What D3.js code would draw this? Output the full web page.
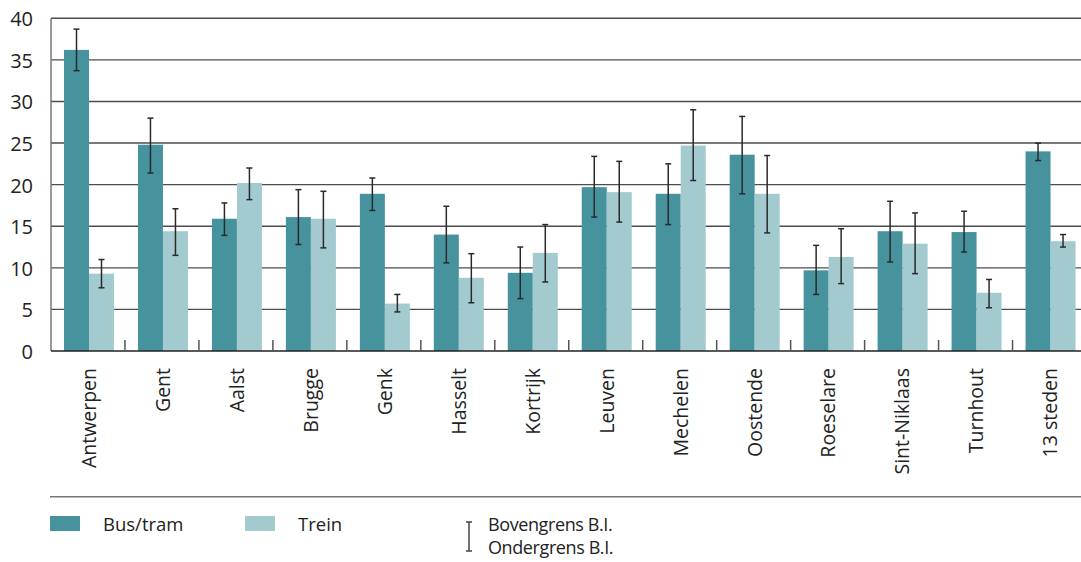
<!DOCTYPE html>
<html><head><meta charset="utf-8">
<script src="https://cdn.jsdelivr.net/npm/d3@7"></script>
<style>body{margin:0;background:#fff}svg{display:block}text{font-family:"Open Sans",sans-serif;fill:#222}</style>
</head><body>
<svg id="c" width="1081" height="562"></svg>
<script>
const categories = ["Antwerpen","Gent","Aalst","Brugge","Genk","Hasselt","Kortrijk","Leuven","Mechelen","Oostende","Roeselare","Sint-Niklaas","Turnhout","13 steden"];
const busTram   = [36.2, 24.8, 15.9, 16.1, 18.9, 14.0, 9.4, 19.7, 18.9, 23.6, 9.7, 14.4, 14.3, 24.0];
const busLow    = [33.7, 21.4, 13.9, 12.8, 16.9, 10.6, 6.3, 16.1, 15.2, 18.9, 6.8, 10.7, 11.9, 22.9];
const busHigh   = [38.7, 28.0, 17.8, 19.4, 20.8, 17.4, 12.5, 23.4, 22.5, 28.2, 12.7, 18.0, 16.8, 25.0];
const trein     = [9.3, 14.4, 20.2, 15.9, 5.7, 8.8, 11.8, 19.1, 24.7, 18.9, 11.3, 12.9, 7.0, 13.2];
const treinLow  = [7.6, 11.5, 18.2, 12.4, 4.7, 5.8, 8.3, 15.5, 20.5, 14.2, 8.1, 9.3, 5.2, 12.5];
const treinHigh = [11.0, 17.1, 22.0, 19.2, 6.8, 11.7, 15.2, 22.8, 29.0, 23.5, 14.7, 16.6, 8.6, 14.0];
const yTicks = [0,5,10,15,20,25,30,35,40];
const seriesNames = ["Bus/tram","Trein"];
const errLabels = ["Bovengrens B.I.","Ondergrens B.I."];
const colors = ["#46939e","#a3cacf"];

const svg = d3.select("#c");
const x = d3.scaleBand().domain(categories).range([51, 1086.5]).padding(0);
const x1 = d3.scaleBand().domain([0,1]).range([13, 63]).padding(0);
const y = d3.scaleLinear().domain([0,40]).range([351, 18.3]);

// grid
svg.append("g").selectAll("line").data(yTicks.filter(d=>d>0)).join("line")
  .attr("x1",51).attr("x2",1081).attr("y1",d=>y(d)).attr("y2",d=>y(d))
  .attr("stroke","#4d4d4d").attr("stroke-width",1.4);

// y labels
svg.append("g").selectAll("text").data(yTicks).join("text")
  .attr("x",33).attr("y",d=>y(d)+1).attr("dy","0.35em").attr("text-anchor","end")
  .attr("font-size",20).text(d=>d);

// bars
const series = [
  {vals: busTram, lo: busLow, hi: busHigh},
  {vals: trein, lo: treinLow, hi: treinHigh}
];
series.forEach((s,si)=>{
  const g = svg.append("g");
  g.selectAll("rect").data(categories).join("rect")
    .attr("x",(c)=>x(c)+x1(si)).attr("width",x1.bandwidth())
    .attr("y",(c,i)=>y(s.vals[i])).attr("height",(c,i)=>y(0)-y(s.vals[i]))
    .attr("fill",colors[si]);
});
series.forEach((s,si)=>{
  const g = svg.append("g").attr("stroke","#2a2a2a").attr("stroke-width",1.5);
  categories.forEach((c,i)=>{
    const cx = x(c)+x1(si)+x1.bandwidth()/2;
    g.append("line").attr("x1",cx).attr("x2",cx).attr("y1",y(s.hi[i])).attr("y2",y(s.lo[i]));
    g.append("line").attr("x1",cx-3).attr("x2",cx+3).attr("y1",y(s.hi[i])).attr("y2",y(s.hi[i]));
    g.append("line").attr("x1",cx-3).attr("x2",cx+3).attr("y1",y(s.lo[i])).attr("y2",y(s.lo[i]));
  });
});

// axes lines
svg.append("line").attr("x1",51).attr("x2",51).attr("y1",y(40)).attr("y2",y(0)).attr("stroke","#777").attr("stroke-width",1.5);
svg.append("line").attr("x1",51).attr("x2",1081).attr("y1",y(0)).attr("y2",y(0)).attr("stroke","#222").attr("stroke-width",1.5);
// group ticks
svg.append("g").selectAll("line").data(categories.slice(1)).join("line")
  .attr("x1",d=>x(d)).attr("x2",d=>x(d)).attr("y1",y(0)-11).attr("y2",y(0))
  .attr("stroke","#555").attr("stroke-width",1.5);

// category labels
svg.append("g").selectAll("text").data(categories).join("text")
  .attr("transform",d=>`translate(${x(d)+38},368) rotate(-90)`)
  .attr("dy","0.35em").attr("text-anchor","end").attr("font-size",19.5).text(d=>d);

// separator
svg.append("line").attr("x1",50).attr("x2",1081).attr("y1",496.7).attr("y2",496.7).attr("stroke","#777").attr("stroke-width",1.5);

// legend
const legX = [50, 245];
seriesNames.forEach((n,i)=>{
  svg.append("rect").attr("x",legX[i]).attr("y",516).attr("width",30).attr("height",15).attr("fill",colors[i]);
  svg.append("text").attr("x",legX[i]+53).attr("y",531).attr("font-size",18.5).text(n);
});
const eg = svg.append("g").attr("stroke","#444").attr("stroke-width",1.5);
eg.append("line").attr("x1",469).attr("x2",469).attr("y1",522).attr("y2",551);
eg.append("line").attr("x1",466).attr("x2",472).attr("y1",522).attr("y2",522);
eg.append("line").attr("x1",466).attr("x2",472).attr("y1",551).attr("y2",551);
errLabels.forEach((t,i)=>{
  svg.append("text").attr("x",488).attr("y",531+i*22.5).attr("font-size",18).attr("letter-spacing",-0.4).text(t);
});
</script>
</body></html>
